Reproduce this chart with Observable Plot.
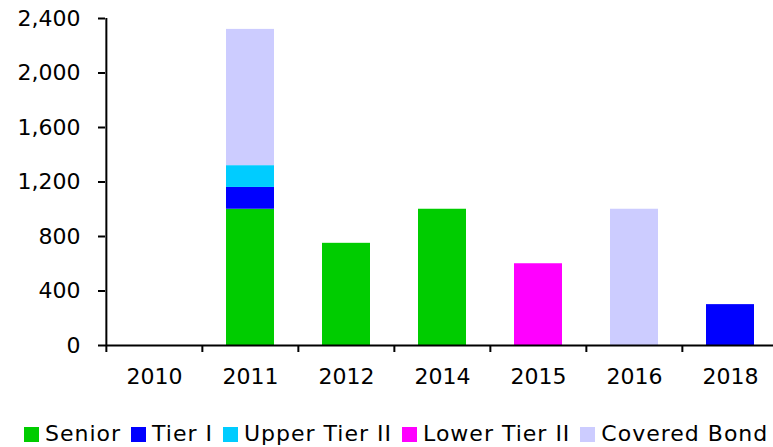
<!DOCTYPE html>
<html>
<head>
<meta charset="utf-8">
<script src="https://cdn.jsdelivr.net/npm/d3@7"></script>
<script src="https://cdn.jsdelivr.net/npm/@observablehq/plot@0.6"></script>
<style>
  html, body { margin: 0; padding: 0; background: #fff; overflow: hidden; }
  body { width: 773px; height: 447px; font-family: "DejaVu Sans", Verdana, sans-serif; }
  #chart { width: 779px; height: 400px; }
  #chart svg { display: block; max-width: none !important; }
  #legend { display: flex; align-items: center; margin-top: 22px; padding-left: 24px; font-size: 22px; line-height: 24px; letter-spacing: 1px; color: #000; white-space: nowrap; }
  #legend .item { display: flex; align-items: center; margin-right: 10px; }
  #legend .sw { width: 15px; height: 15px; margin-right: 6px; display: inline-block; }
</style>
</head>
<body>
<div id="chart"></div>
<div id="legend"></div>
<script>
// ---- data ----
const years = ["2010", "2011", "2012", "2014", "2015", "2016", "2018"];
const seriesNames = ["Senior", "Tier I", "Upper Tier II", "Lower Tier II", "Covered Bond"];
const seriesColors = ["#00CC00", "#0000FF", "#00CCFF", "#FF00FF", "#CCCCFF"];
const senior      = [0, 1000, 750, 1000,   0,    0,   0];
const tierI       = [0,  160,   0,    0,   0,    0, 300];
const upperTierII = [0,  160,   0,    0,   0,    0,   0];
const lowerTierII = [0,    0,   0,    0, 600,    0,   0];
const coveredBond = [0, 1000,   0,    0,   0, 1000,   0];
const yTicks = [0, 400, 800, 1200, 1600, 2000, 2400];

const seriesValues = [senior, tierI, upperTierII, lowerTierII, coveredBond];
const rows = [];
seriesNames.forEach((s, si) => {
  years.forEach((yr, i) => {
    const v = seriesValues[si][i];
    if (v > 0) rows.push({year: yr, series: s, value: v});
  });
});

// ---- layout ----
const width = 779, marginLeft = 105, marginRight = 0;
const step = (width - marginLeft - marginRight) / years.length;

const chart = Plot.plot({
  width,
  height: 400,
  marginTop: 18,
  marginBottom: 55,
  marginLeft,
  marginRight,
  style: {fontFamily: "'DejaVu Sans', Verdana, sans-serif", fontSize: "22px", color: "#000", background: "#fff", overflow: "visible", maxWidth: "none"},
  x: {domain: years, paddingInner: 0.5, paddingOuter: 0.25},
  y: {domain: [0, 2400]},
  color: {domain: seriesNames, range: seriesColors},
  marks: [
    Plot.barY(rows, {x: "year", y: "value", fill: "series", order: seriesNames}),
    Plot.axisY({ticks: yTicks, tickSize: 7, tickPadding: 18, tickFormat: d3.format(","), strokeWidth: 2, label: null}),
    Plot.axisX({tickSize: 0, tickPadding: 23, label: null}),
    Plot.axisX({tickSize: 7, tickFormat: () => "", dx: -step / 2, strokeWidth: 2, label: null}),
    Plot.ruleY([0], {strokeWidth: 2}),
    Plot.ruleX([years[0]], {dx: -step / 2, strokeWidth: 2})
  ]
});
document.getElementById("chart").appendChild(chart);

// ---- legend ----
const legend = document.getElementById("legend");
seriesNames.forEach((s, i) => {
  const item = document.createElement("span");
  item.className = "item";
  const sw = document.createElement("span");
  sw.className = "sw";
  sw.style.background = seriesColors[i];
  item.appendChild(sw);
  item.appendChild(document.createTextNode(s));
  legend.appendChild(item);
});
</script>
</body>
</html>
